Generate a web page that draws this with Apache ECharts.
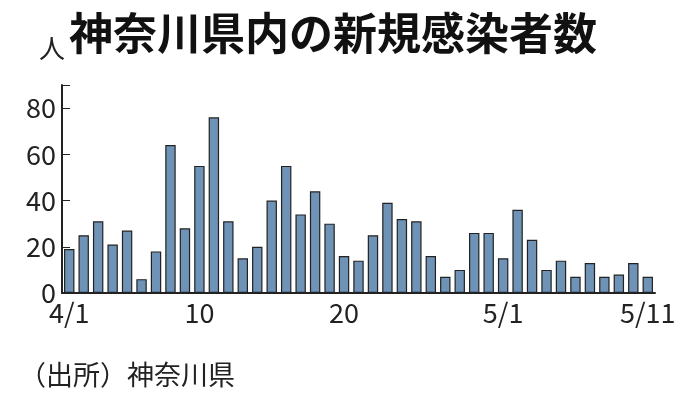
<!DOCTYPE html><html><head><meta charset="utf-8"><script src="https://cdn.jsdelivr.net/npm/echarts@6/dist/echarts.min.js"></script>
<style>body{margin:0;background:#fff}#c{width:680px;height:417px}</style></head><body><div id="c"></div><script>
const categories=[];for(let d=1;d<=30;d++)categories.push('4/'+d);for(let d=1;d<=11;d++)categories.push('5/'+d);
const values=[19,25,31,21,27,6,18,64,28,55,76,31,15,20,40,55,34,44,30,16,14,25,39,32,31,16,7,10,26,26,15,36,23,10,14,7,13,7,8,13,7];
const xLabels={'4/1':'4/1','4/10':'10','4/20':'20','5/1':'5/1','5/11':'5/11'};
const F='"Noto Sans CJK JP",sans-serif';
const c=echarts.init(document.getElementById('c'));
c.setOption({animation:false,
title:[{text:'神奈川県内の新規感染者数',left:64,top:6,textStyle:{fontFamily:F,fontSize:44,fontWeight:'bold',color:'#111'}},
{text:'人',left:34,top:30,textStyle:{fontFamily:F,fontSize:26,fontWeight:'normal',color:'#222'}},
{text:'（出所）神奈川県',left:14,top:356,textStyle:{fontFamily:F,fontSize:27,fontWeight:'normal',color:'#222'}}],
grid:{left:62,right:25,top:85,bottom:124},
xAxis:{type:'category',data:categories,axisLine:{lineStyle:{color:'#222',width:2}},axisTick:{show:false},
axisLabel:{interval:0,formatter:v=>xLabels[v]||'',fontFamily:F,fontSize:27,color:'#222',margin:6}},
yAxis:{type:'value',min:0,max:90,interval:20,splitLine:{show:false},axisLine:{show:true,lineStyle:{color:'#222',width:2}},
axisTick:{show:true,inside:true,length:8,lineStyle:{color:'#222'}},
axisLabel:{formatter:v=>v>80?'':v,fontFamily:F,fontSize:27,color:'#222',margin:6}},
series:[{type:'bar',data:values,barCategoryGap:'28%',itemStyle:{color:'#6f93b6',borderColor:'#222',borderWidth:1.2}}]});
</script></body></html>
